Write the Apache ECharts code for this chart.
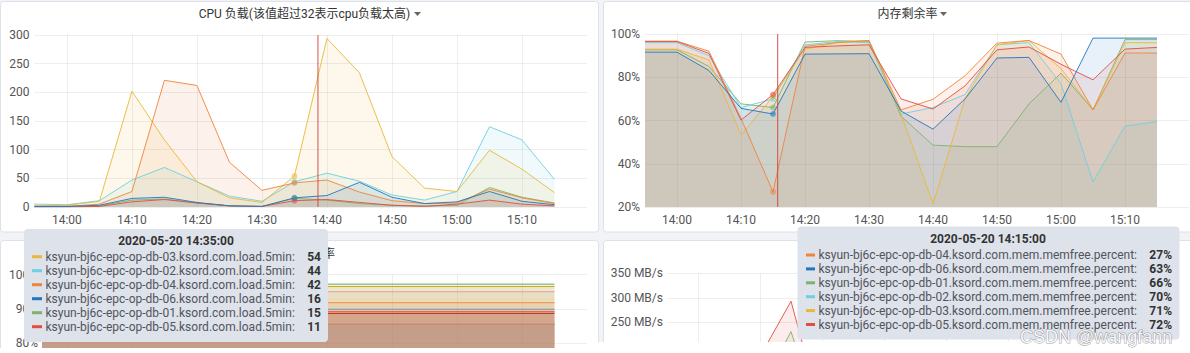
<!DOCTYPE html>
<html><head><meta charset="utf-8">
<script src="https://cdn.jsdelivr.net/npm/echarts@6/dist/echarts.min.js"></script>
<style>html,body{margin:0;padding:0;background:#f1f3f6}#c{width:1190px;height:353px}</style>
</head><body><div id="c"></div>
<script>
// ---------------- DATA ----------------
const hosts = ['ksyun-bj6c-epc-op-db-01','ksyun-bj6c-epc-op-db-02','ksyun-bj6c-epc-op-db-03','ksyun-bj6c-epc-op-db-04','ksyun-bj6c-epc-op-db-05','ksyun-bj6c-epc-op-db-06'];
const hostColors = ['#7EB26D','#6ED0E0','#EAB839','#EF843C','#E24D42','#1F78C1'];
const timeLabels = ['13:55','14:00','14:05','14:10','14:15','14:20','14:25','14:30','14:35','14:40','14:45','14:50','14:55','15:00','15:05','15:10','15:15'];
const xTickLabels = ['14:00','14:10','14:20','14:30','14:40','14:50','15:00','15:10'];

// CPU load.5min
const cpuDb01 = [1,1,2,12,14,7,2,1,15,12,6,3,2,3,34,17,7];
const cpuDb02 = [5,4,11,47,69,44,19,10,44,59,45,21,12,27,140,117,48];
const cpuDb03 = [2,3,10,202,117,44,16,8,54,294,234,88,33,27,99,66,25];
const cpuDb04 = [1,1,5,27,221,212,78,29,42,47,26,11,6,7,31,16,6];
const cpuDb05 = [0,0,1,9,13,7,2,1,11,13,8,3,1,5,12,5,2];
const cpuDb06 = [1,1,3,15,17,8,2,1,16,20,43,17,6,9,27,10,4];

// memfree percent
const memDb01 = [92.7,92.7,85,67.7,66,96.3,96.9,96.6,62,48.6,47.9,47.9,67.7,81.9,65,97.4,97.4];
const memDb02 = [96,96,90,66,70,95,96.5,96,63,66,72,95,96,77,31.6,57.4,59.5];
const memDb03 = [93,93,88,53.3,71,93,96,97,63,21.5,70,95,97,84,65,96,96];
const memDb04 = [96.7,96.7,92,61,27,94.3,96,97,64.9,69.8,80.7,95.8,97,90.7,64.9,91.2,91.2];
const memDb05 = [96.5,96.5,91,60.2,72,93.8,94.5,95,70,65.3,76,92.7,94,86,78.8,93,93.8];
const memDb06 = [91.6,91.6,83.1,65.6,63,90.7,90.8,90.9,64.4,56,70,88.9,89.2,68.4,98.1,98.1,98.1];

// bottom-left panel (flat lines)
const diskTimes = ['13:55','15:15'];
const diskLevels = [97.2,96.5,95.0,92.8,91.8,89.9,89.2,88.7,85.5,85.4];
const diskColors = ['#629E51','#CCA300','#F29191','#F4D598','#EF843C','#6D8FB0','#E24D42','#BF1B00','#1F78C1','#F9934E'];

// bottom-right panel (MB/s), visible part only
const ioTimes = ['13:55','14:00','14:05','14:10','14:15','14:20'];
const ioDb05 = [15,20,40,180,293,60];
const ioDb01 = [10,12,25,110,231,40];

const cpuHoverIdx = 8;   // 14:35
const memHoverIdx = 4;   // 14:15
const cpuCursor = '14:38:37';
const memCursor = '14:15:44';
const dateStr = '2020-05-20';

// ---------------- HELPERS ----------------
const FONT = 'Roboto, "Noto Sans CJK SC", sans-serif';
const cpuData = [cpuDb01,cpuDb02,cpuDb03,cpuDb04,cpuDb05,cpuDb06];
const memData = [memDb01,memDb02,memDb03,memDb04,memDb05,memDb06];
function t(hm){ const p = hm.split(':').map(Number); return new Date(2020,4,20,p[0],p[1],p[2]||0).getTime(); }
function pad(n){ return (n<10?'0':'')+n; }
const GRIDC = 'rgba(0,0,0,0.065)';
const xTicks = xTickLabels.map(t);

function timeAxis(gi, min, max){
  return { type:'value', gridIndex:gi, min:t(min), max:t(max),
    axisLine:{show:false}, axisTick:{show:false, customValues:xTicks},
    axisLabel:{ customValues:xTicks, color:'#555', fontSize:12, fontFamily:FONT, margin:7, hideOverlap:false,
      formatter: v => { const d = new Date(v); return pad(d.getHours())+':'+pad(d.getMinutes()); } },
    splitLine:{show:true, lineStyle:{color:GRIDC, width:1}} };
}
function valAxis(gi, min, max, interval, fmt, margin){
  return { type:'value', gridIndex:gi, min, max, interval,
    axisLine:{show:false}, axisTick:{show:false},
    axisLabel:{ color:'#555', fontSize:12, fontFamily:FONT, margin, formatter: fmt },
    splitLine:{show:true, lineStyle:{color:GRIDC, width:1}} };
}
function line(name, color, times, vals, gi, hoverIdx, fillOp){
  return { type:'line', name, xAxisIndex:gi, yAxisIndex:gi,
    data: times.map((tm,i)=>[t(tm), vals[i]]),
    lineStyle:{width:1, color, opacity:0.9}, itemStyle:{color, opacity:0.55, borderWidth:0},
    areaStyle:{color, opacity:fillOp||0.1},
    symbol:(v,p)=> p.dataIndex===hoverIdx ? 'circle' : 'none',
    symbolSize:(v,p)=> p.dataIndex===hoverIdx ? 6 : 0,
    showSymbol:true, showAllSymbol:true, animation:false, silent:true, z:2 };
}
// vertical crosshair drawn as a two-point line series through the axes' scales
function cursorLine(gi, cursor, yMin, yMax){
  return { type:'line', name:'cursor'+gi, xAxisIndex:gi, yAxisIndex:gi, z:8, silent:true, animation:false,
    data:[[t(cursor), yMin],[t(cursor), yMax]], symbol:'none', showSymbol:false,
    lineStyle:{color:'#d23f3a', width:1, type:'solid', opacity:0.9}, itemStyle:{color:'#d23f3a'} };
}

const series = [];
hosts.forEach((h,i)=> series.push(line(h+'.ksord.com.load.5min', hostColors[i], timeLabels, cpuData[i], 0, cpuHoverIdx)));
hosts.forEach((h,i)=> series.push(line(h+'.ksord.com.mem.memfree.percent', hostColors[i], timeLabels, memData[i], 1, memHoverIdx)));
diskLevels.forEach((v,i)=> series.push(line('disk-'+i, diskColors[i], diskTimes, [v,v], 2, -1, 0.12)));
series.push(line('io-db-05', '#E24D42', ioTimes, ioDb05, 3, -1));
series.push(line('io-db-01', '#7EB26D', ioTimes, ioDb01, 3, -1));
series.push(cursorLine(0, cpuCursor, 0, 300));
series.push(cursorLine(1, memCursor, 20, 100));

// ---------------- GRAPHICS ----------------
function txt(x, y, text, font, fill, align, z){
  return { type:'text', x, y, z: z||100, silent:true,
    style:{ text, fill, font, textAlign:align||'left', align:align||'left', textVerticalAlign:'middle', verticalAlign:'middle' } };
}
function panel(x, y, w, h){
  return { type:'rect', z:-10, silent:true, shape:{x, y, width:w, height:h, r:3}, style:{fill:'#fff', stroke:'#dce1ea', lineWidth:1} };
}
function arrow(x, y){
  return { type:'polygon', z:5, silent:true, shape:{points:[[x,y-2],[x+7,y-2],[x+3.5,y+2]]}, style:{fill:'#666'} };
}
function tooltip(box, title, rows, o){
  const els = [{ type:'rect', z:100, silent:true, shape:{x:box[0], y:box[1], width:box[2], height:box[3], r:4}, style:{fill:'#dee2ea'} }];
  els.push(txt(o.titleX, o.titleY, title, 'bold 12px '+FONT, '#333', 'center', 101));
  rows.forEach((r,i)=>{
    const y = o.rowY + i*o.step;
    els.push({ type:'rect', z:101, silent:true, shape:{x:o.markX, y:y-1.5, width:o.markW, height:3}, style:{fill:r.color} });
    els.push(txt(o.textX, y, r.name, '12px '+FONT, '#52545c', 'left', 101));
    els.push(txt(o.valX, y, r.label, 'bold 12px '+FONT, '#333', 'right', 101));
  });
  return els;
}
const cpuRows = hosts.map((h,i)=>({name:h+'.ksord.com.load.5min:', color:hostColors[i], v:cpuData[i][cpuHoverIdx]}))
  .sort((a,b)=>b.v-a.v).map(r=>Object.assign(r,{label:String(Math.round(r.v))}));
const memRows = hosts.map((h,i)=>({name:h+'.ksord.com.mem.memfree.percent:', color:hostColors[i], v:memData[i][memHoverIdx]}))
  .sort((a,b)=>a.v-b.v).map(r=>Object.assign(r,{label:Math.round(r.v)+'%'}));

const graphics = [
  panel(0.5, 1.5, 598, 230.5),
  panel(603.5, 1.5, 600, 230.5),
  panel(0.5, 240.5, 598, 200),
  panel(603.5, 240.5, 600, 200),
  txt(304.5, 14, 'CPU 负载(该值超过32表示cpu负载太高)', '12px '+FONT, '#333', 'center', 5),
  arrow(414, 14),
  txt(907.5, 14, '内存剩余率', '12px '+FONT, '#333', 'center', 5),
  arrow(940, 14),
  txt(305, 254, '磁盘使用率', '12px '+FONT, '#333', 'center', 5),
  { type:'rect', z:50, silent:true, shape:{x:0, y:348, width:600, height:10}, style:{fill:'#fff'} },
  { type:'rect', z:50, silent:true, shape:{x:590, y:342, width:600, height:15}, style:{fill:'#fff'} },
  ...tooltip([24,229,304,113], dateStr+' '+timeLabels[cpuHoverIdx]+':00', cpuRows,
    {titleX:176, titleY:241, rowY:256.7, step:14, markX:32, markW:10, textX:45.5, valX:321}),
  ...tooltip([797.5,226.5,382,113], dateStr+' '+timeLabels[memHoverIdx]+':00', memRows,
    {titleX:988, titleY:239, rowY:255, step:13.9, markX:806, markW:9, textX:818.5, valX:1172}),
  { type:'text', x:1020, y:337, z:200, silent:true,
    style:{ text:'CSDN @wangfann', font:'18px "Liberation Sans", sans-serif', fill:'rgba(255,255,255,0.92)',
      stroke:'rgba(80,80,80,0.55)', lineWidth:1, textVerticalAlign:'middle', verticalAlign:'middle' } }
];

const gb = {containLabel:false, outerBoundsMode:'none'};
const option = {
  backgroundColor:'#f1f3f6',
  animation:false,
  grid:[
    Object.assign({left:34.4, top:35, width:552.6, height:172}, gb),
    Object.assign({left:645, top:34, width:544, height:173}, gb),
    Object.assign({left:43, top:274.5, width:544, height:172}, gb),
    Object.assign({left:667, top:273.3, width:496, height:171.5}, gb)
  ],
  xAxis:[
    timeAxis(0,'13:55','15:20'),
    timeAxis(1,'13:55','15:20'),
    timeAxis(2,'13:56:19','15:20'),
    timeAxis(3,'13:55','15:15')
  ],
  yAxis:[
    valAxis(0,0,300,50,'{value}',5),
    valAxis(1,20,100,20,'{value}%',5),
    valAxis(2,50,100,10,'{value}%',5),
    valAxis(3,0,350,50,'{value} MB/s',4)
  ],
  series,
  graphic: graphics
};
const chart = echarts.init(document.getElementById('c'), null, {renderer:'svg'});
chart.setOption(option);
</script></body></html>
